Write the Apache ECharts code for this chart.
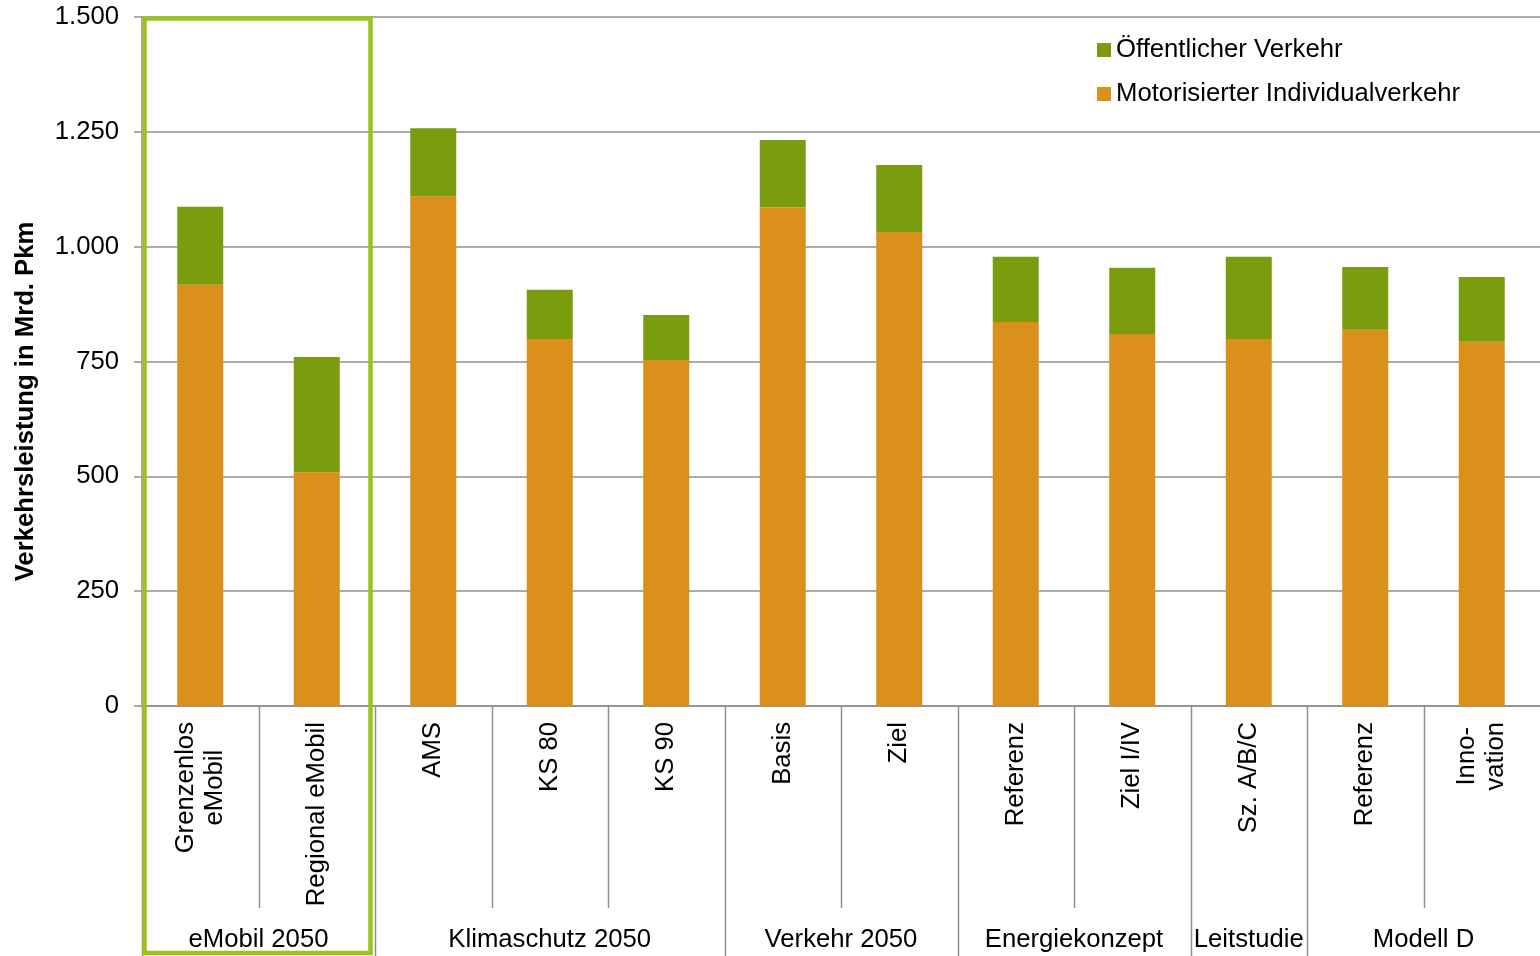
<!DOCTYPE html>
<html>
<head>
<meta charset="utf-8">
<script src="https://cdn.jsdelivr.net/npm/echarts@6/dist/echarts.min.js"></script>
<style>
  html, body { margin: 0; padding: 0; background: #ffffff; }
  #chart { width: 1540px; height: 956px; }
</style>
</head>
<body>
<div id="chart"></div>
<script>
// Szenarien (Kategorien) und ihre Studien-Gruppen
const categories = ['Grenzenlos\neMobil', 'Regional eMobil', 'AMS', 'KS 80', 'KS 90', 'Basis', 'Ziel',
                    'Referenz', 'Ziel I/IV', 'Sz. A/B/C', 'Referenz', 'Inno-\nvation'];
const groupNames = ['eMobil 2050', 'Klimaschutz 2050', 'Verkehr 2050', 'Energiekonzept', 'Leitstudie', 'Modell D'];
const groupSizes = [2, 3, 2, 2, 1, 2];

// Verkehrsleistung in Mrd. Pkm
const mivValues = [917, 509, 1110, 799, 753, 1086, 1032, 836, 810, 799, 819, 793];
const oevValues = [170, 251, 148, 107, 98, 146, 146, 142, 144, 179, 137, 141];

const seriesNames = ['Motorisierter Individualverkehr', 'Öffentlicher Verkehr'];
const yMin = 0, yMax = 1500, yStep = 250;

const FONT = '"Liberation Sans", Arial, sans-serif';
const FS = 25.7;
const GRID_GRAY = '#8f8f8f';
const C_MIV = '#dc901c';
const C_OEV = '#7b9c0e';
const C_FRAME = '#9bc31b';

function deNumber(v) {
  return String(v).replace(/\B(?=(\d{3})+(?!\d))/g, '.');
}

const chart = echarts.init(document.getElementById('chart'), null, { renderer: 'canvas' });

const option = {
  animation: false,
  backgroundColor: '#ffffff',
  textStyle: { fontFamily: FONT },
  grid: { left: 142, right: 0, top: 17, bottom: 250, containLabel: false },
  legend: {
    orient: 'vertical',
    left: 1097,
    top: 37,
    padding: 0,
    itemWidth: 14,
    itemHeight: 14,
    itemGap: 18,
    icon: 'rect',
    data: ['Öffentlicher Verkehr', 'Motorisierter Individualverkehr'],
    textStyle: { fontFamily: FONT, fontSize: FS, color: '#000000' }
  },
  xAxis: {
    type: 'category',
    data: categories,
    boundaryGap: true,
    axisLine: { show: true, lineStyle: { color: GRID_GRAY, width: 1.5 } },
    axisTick: { show: false },
    axisLabel: {
      interval: 0,
      rotate: 90,
      margin: 16,
      color: '#000000',
      fontFamily: FONT,
      fontSize: FS,
      formatter: v => v.split('\n').map(s => '{c|' + s + '}').join('\n'),
      rich: { c: { align: 'center', fontFamily: FONT, fontSize: FS, lineHeight: 29, color: '#000000' } }
    }
  },
  yAxis: {
    type: 'value',
    min: yMin,
    max: yMax,
    interval: yStep,
    name: 'Verkehrsleistung in Mrd. Pkm',
    nameLocation: 'middle',
    nameGap: 103,
    nameRotate: 90,
    nameTextStyle: { fontFamily: FONT, fontSize: FS, fontWeight: 'bold', color: '#000000', padding: [0, 80, 0, 0] },
    axisLine: { show: true, lineStyle: { color: GRID_GRAY, width: 1.5 } },
    axisTick: { show: true, length: 8, lineStyle: { color: GRID_GRAY, width: 1.5 } },
    axisLabel: { margin: 23, color: '#000000', fontFamily: FONT, fontSize: FS, formatter: deNumber },
    splitLine: { show: true, lineStyle: { color: GRID_GRAY, width: 1.5 } }
  },
  series: [
    {
      name: seriesNames[0],
      type: 'bar',
      stack: 'total',
      barWidth: 46,
      itemStyle: { color: C_MIV },
      data: mivValues
    },
    {
      name: seriesNames[1],
      type: 'bar',
      stack: 'total',
      barWidth: 46,
      itemStyle: { color: C_OEV },
      data: oevValues
    }
  ]
};

chart.setOption(option);

// Trennlinien, Gruppenbeschriftungen und Rahmen um die erste Gruppe
function buildGroupGraphics() {
  const c0 = chart.convertToPixel({ xAxisIndex: 0 }, 0);
  const c1 = chart.convertToPixel({ xAxisIndex: 0 }, 1);
  const band = c1 - c0;
  const edge = i => c0 - band / 2 + i * band;
  const yAxisLine = chart.convertToPixel({ yAxisIndex: 0 }, yMin);
  const yTop = chart.convertToPixel({ yAxisIndex: 0 }, yMax);
  const shortEnd = 908, longEnd = 956, groupTextY = 940;

  const groupStarts = [];
  let acc = 0;
  groupSizes.forEach(n => { groupStarts.push(acc); acc += n; });

  const elements = [];
  for (let i = 0; i < categories.length; i++) {
    const isGroupEdge = groupStarts.indexOf(i) >= 0;
    const x = Math.round(edge(i)) + 0.5;
    elements.push({
      type: 'line',
      silent: true,
      shape: { x1: x, y1: yAxisLine, x2: x, y2: isGroupEdge ? longEnd : shortEnd },
      style: { stroke: GRID_GRAY, lineWidth: 1.5 }
    });
  }
  groupNames.forEach((name, g) => {
    const cx = (edge(groupStarts[g]) + edge(groupStarts[g] + groupSizes[g])) / 2;
    elements.push({
      type: 'text',
      silent: true,
      x: cx,
      y: groupTextY,
      style: { text: name, fontFamily: FONT, fontSize: FS, fill: '#000000', align: 'center', verticalAlign: 'middle' }
    });
  });
  const fx1 = edge(0) + 2.5, fx2 = edge(groupSizes[0]) - 4.5;
  elements.push({
    type: 'rect',
    silent: true,
    z: 100,
    shape: { x: fx1, y: yTop + 1.5, width: fx2 - fx1, height: 953 - (yTop + 1.5) },
    style: { fill: 'none', stroke: C_FRAME, lineWidth: 4.5 }
  });
  chart.setOption({ graphic: { elements: elements } });
}
buildGroupGraphics();
</script>
</body>
</html>
